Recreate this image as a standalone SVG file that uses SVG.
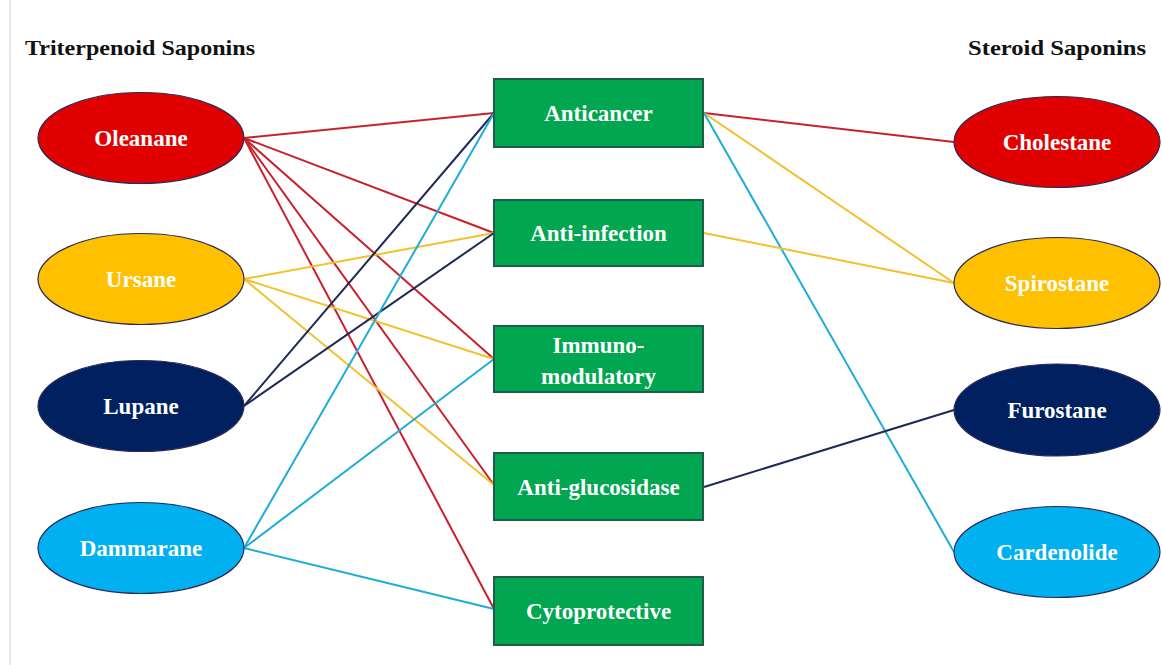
<svg xmlns="http://www.w3.org/2000/svg" width="1162" height="665" viewBox="0 0 1162 665">
<style>
.t{font-family:"Liberation Serif","DejaVu Serif",serif;font-weight:bold;fill:#fff;font-size:23px;text-anchor:middle;dominant-baseline:central}
.h{font-family:"Liberation Serif","DejaVu Serif",serif;font-weight:bold;fill:#111;font-size:22px}
.box{fill:#00A650;stroke:#1D5E4A;stroke-width:2}
.el{stroke:#2A2A5A;stroke-width:1.2}
#connectors line{stroke-width:2}
.r{stroke:#C8202C}.y{stroke:#F2C12E}.n{stroke:#1C2A55}.c{stroke:#1DADD6}
</style>
<rect width="1162" height="665" fill="#fff"/>
<line x1="10" y1="0" x2="10" y2="665" stroke="#d0d0d0" stroke-width="1"/>
<text class="h" x="25" y="55" textLength="230" lengthAdjust="spacingAndGlyphs">Triterpenoid Saponins</text>
<text class="h" x="968" y="55" textLength="178" lengthAdjust="spacingAndGlyphs">Steroid Saponins</text>
<g id="connectors">
<line class="r" x1="244" y1="138" x2="494" y2="113"/>
<line class="r" x1="244" y1="138" x2="494" y2="233"/>
<line class="r" x1="244" y1="138" x2="494" y2="359"/>
<line class="r" x1="244" y1="138" x2="494" y2="485"/>
<line class="r" x1="244" y1="138" x2="494" y2="609"/>
<line class="y" x1="244" y1="279" x2="494" y2="233"/>
<line class="y" x1="244" y1="279" x2="494" y2="359"/>
<line class="y" x1="244" y1="279" x2="494" y2="485"/>
<line class="n" x1="244" y1="406" x2="494" y2="113"/>
<line class="n" x1="244" y1="406" x2="494" y2="233"/>
<line class="c" x1="244" y1="548" x2="494" y2="113"/>
<line class="c" x1="244" y1="548" x2="494" y2="359"/>
<line class="c" x1="244" y1="548" x2="494" y2="609"/>
<line class="r" x1="704" y1="113" x2="954" y2="142"/>
<line class="y" x1="704" y1="113" x2="954" y2="283"/>
<line class="c" x1="704" y1="113" x2="954" y2="552"/>
<line class="y" x1="704" y1="233" x2="954" y2="283"/>
<line class="n" x1="704" y1="487" x2="954" y2="410"/>
</g>
<g id="oleanane"><ellipse class="el" cx="141" cy="138" rx="103" ry="45.5" fill="#E00000"/><text class="t" x="141" y="138">Oleanane</text></g>
<g id="ursane"><ellipse class="el" cx="141" cy="279" rx="103" ry="45.5" fill="#FFC000"/><text class="t" x="141" y="279">Ursane</text></g>
<g id="lupane"><ellipse class="el" cx="141" cy="406" rx="103" ry="45.5" fill="#002060"/><text class="t" x="141" y="406">Lupane</text></g>
<g id="dammarane"><ellipse class="el" cx="141" cy="548" rx="103" ry="45.5" fill="#00B0F0"/><text class="t" x="141" y="548">Dammarane</text></g>
<g id="anticancer"><rect class="box" x="494" y="79" width="209" height="68"/><text class="t" x="598.5" y="113">Anticancer</text></g>
<g id="anti-infection"><rect class="box" x="494" y="200" width="209" height="66"/><text class="t" x="598.5" y="233">Anti-infection</text></g>
<g id="immunomodulatory"><rect class="box" x="494" y="326" width="209" height="66"/><text class="t" x="598.5" y="345">Immuno-</text><text class="t" x="598.5" y="376">modulatory</text></g>
<g id="anti-glucosidase"><rect class="box" x="494" y="453" width="209" height="67"/><text class="t" x="598.5" y="487">Anti-glucosidase</text></g>
<g id="cytoprotective"><rect class="box" x="494" y="577" width="209" height="68"/><text class="t" x="598.5" y="611">Cytoprotective</text></g>
<g id="cholestane"><ellipse class="el" cx="1057" cy="142" rx="103" ry="45.5" fill="#E00000"/><text class="t" x="1057" y="142">Cholestane</text></g>
<g id="spirostane"><ellipse class="el" cx="1057" cy="283" rx="103" ry="45.5" fill="#FFC000"/><text class="t" x="1057" y="283">Spirostane</text></g>
<g id="furostane"><ellipse class="el" cx="1057" cy="410" rx="103" ry="46" fill="#002060"/><text class="t" x="1057" y="410">Furostane</text></g>
<g id="cardenolide"><ellipse class="el" cx="1057" cy="552" rx="103" ry="45.5" fill="#00B0F0"/><text class="t" x="1057" y="552">Cardenolide</text></g>
</svg>
